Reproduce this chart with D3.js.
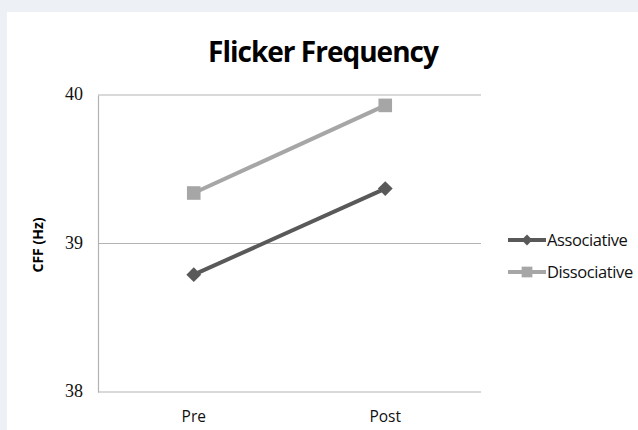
<!DOCTYPE html>
<html>
<head>
<meta charset="utf-8">
<script src="https://cdn.jsdelivr.net/npm/d3@7"></script>
<style>
  body { margin: 0; background: #edf1f5; }
  svg { display: block; }
</style>
</head>
<body>
<div class="chart"></div>
<script>
// data
const categories = ['Pre', 'Post'];
const seriesNames = ['Associative', 'Dissociative'];
const associative = [38.79, 39.37];
const dissociative = [39.34, 39.93];
const yTicks = [38, 39, 40];
const colors = ['#595959', '#a6a6a6'];

const W = 638, H = 430;
const plot = {left: 98, right: 481, top: 95, bottom: 392};

const svg = d3.select('.chart')
    .append('svg')
    .attr('width', W)
    .attr('height', H);

// white chart panel
svg.append('rect')
    .attr('x', 7).attr('y', 12)
    .attr('width', W - 7).attr('height', H - 12)
    .attr('fill', '#fff');

const xScale = d3.scaleBand().domain(categories).range([plot.left, plot.right]);
const yScale = d3.scaleLinear().domain([38, 40]).range([plot.bottom, plot.top]);

// gridlines
svg.append('g')
    .selectAll('line')
    .data(yTicks)
    .join('line')
    .attr('x1', plot.left).attr('x2', plot.right)
    .attr('y1', d => yScale(d)).attr('y2', d => yScale(d))
    .attr('stroke', '#b3b3b3')
    .attr('stroke-width', 1.2);

// left axis
const yAxis = svg.append('g')
    .attr('transform', 'translate(' + plot.left + ',0)')
    .call(d3.axisLeft(yScale).tickValues(yTicks).tickFormat(d3.format('d')).tickSize(0).tickPadding(15));
yAxis.select('.domain').attr('stroke', '#b3b3b3').attr('stroke-width', 1.2);
yAxis.selectAll('text')
    .style('font-family', '"Liberation Serif", "DejaVu Serif", serif')
    .style('font-size', '18px')
    .attr('dy', '0.25em')
    .attr('fill', '#111');

// bottom axis
const xAxis = svg.append('g')
    .attr('transform', 'translate(0,' + plot.bottom + ')')
    .call(d3.axisBottom(xScale).tickSize(0).tickPadding(19));
xAxis.select('.domain').remove();
xAxis.selectAll('text')
    .style('font-family', '"Open Sans", sans-serif')
    .style('font-size', '15.5px')
    .attr('fill', '#111');

// title
svg.append('text')
    .attr('x', 323).attr('y', 62)
    .attr('text-anchor', 'middle')
    .style('font-family', '"Open Sans", sans-serif')
    .style('font-weight', 'bold')
    .style('font-size', '28px')
    .attr('letter-spacing', -1)
    .attr('fill', '#000')
    .text('Flicker Frequency');

// y axis title
svg.append('text')
    .attr('transform', 'translate(43,245) rotate(-90)')
    .attr('text-anchor', 'middle')
    .style('font-family', '"Open Sans", sans-serif')
    .style('font-weight', 'bold')
    .style('font-size', '14px')
    .attr('fill', '#000')
    .text('CFF (Hz)');

const cx = d => xScale(d) + xScale.bandwidth() / 2;
const line = d3.line().x(d => cx(d.cat)).y(d => yScale(d.v));

const series = [associative, dissociative].map((vals, i) => ({
    name: seriesNames[i],
    color: colors[i],
    points: vals.map((v, j) => ({cat: categories[j], v: v}))
}));

const diamond = d3.symbol().type(d3.symbolDiamond2).size(140);
const square = d3.symbol().type(d3.symbolSquare).size(185);

series.forEach((s, i) => {
    svg.append('path')
        .datum(s.points)
        .attr('d', line)
        .attr('fill', 'none')
        .attr('stroke', s.color)
        .attr('stroke-width', 4);

    svg.append('g')
        .selectAll('path')
        .data(s.points)
        .join('path')
        .attr('transform', d => 'translate(' + cx(d.cat) + ',' + yScale(d.v) + ')')
        .attr('d', i === 0 ? diamond : square)
        .attr('fill', s.color);
});

// legend
const legend = svg.append('g')
    .selectAll('g')
    .data(series)
    .join('g')
    .attr('transform', (d, i) => 'translate(508,' + (240 + i * 32) + ')');

legend.append('line')
    .attr('x1', 0).attr('x2', 38)
    .attr('stroke', d => d.color)
    .attr('stroke-width', 4);

legend.append('path')
    .attr('transform', 'translate(19,0)')
    .attr('d', (d, i) => i === 0 ? d3.symbol().type(d3.symbolDiamond2).size(75)() : d3.symbol().type(d3.symbolSquare).size(115)())
    .attr('fill', d => d.color);

legend.append('text')
    .attr('x', 39).attr('y', 6)
    .style('font-family', '"Open Sans", sans-serif')
    .style('font-size', '16.5px')
    .attr('letter-spacing', -0.4)
    .attr('fill', '#111')
    .text(d => d.name);
</script>
</body>
</html>
